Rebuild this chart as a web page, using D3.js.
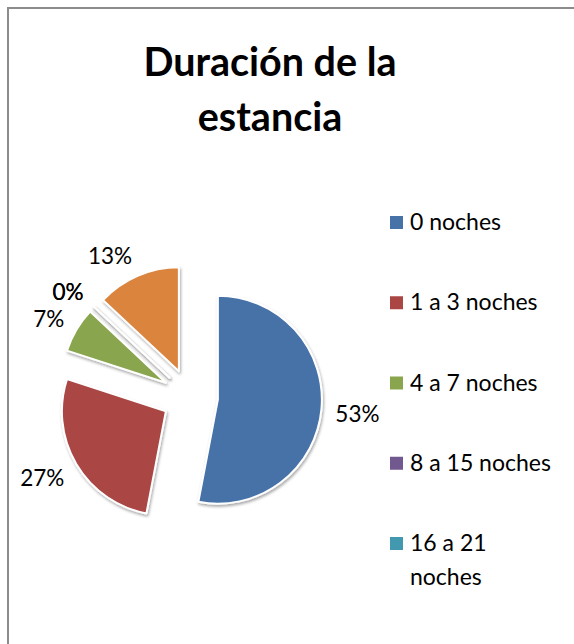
<!DOCTYPE html>
<html>
<head>
<meta charset="utf-8">
<script src="https://cdn.jsdelivr.net/npm/d3@7"></script>
<style>
  html, body { margin: 0; padding: 0; background: #fff; }
  svg { display: block; }
  text { font-family: Lato, "Open Sans", "Liberation Sans", sans-serif; }
</style>
</head>
<body>
<svg id="chart" width="574" height="644"></svg>
<script>
// ---- data ----
const categories = ["0 noches", "1 a 3 noches", "4 a 7 noches", "8 a 15 noches", "16 a 21 noches", ""];
const values = [53, 27, 7, 0, 0, 13];
const legendCount = 5; // only the first five entries are visible in the legend
const colors = ["#4672A8", "#AA4644", "#89A54E", "#71588F", "#4198AF", "#DB843D"];
const title = ["Duración de la", "estancia"];

const svg = d3.select("#chart");
const W = 574, H = 644;

// frame
svg.append("path")
  .attr("d", `M8,${H} L8,8 L${W},8`)
  .attr("fill", "none").attr("stroke", "#8c8c8c").attr("stroke-width", 2);

// title
svg.append("text")
  .attr("x", 270).attr("y", 0)
  .attr("text-anchor", "middle")
  .attr("font-weight", "bold").attr("font-size", 39.5)
  .attr("fill", "#000")
  .selectAll("tspan").data(title).join("tspan")
  .attr("x", 270)
  .attr("y", (d, i) => 76 + i * 55)
  .text(d => d);

// shadow filter
const defs = svg.append("defs");
const f = defs.append("filter").attr("id", "sh").attr("x", "-20%").attr("y", "-20%").attr("width", "140%").attr("height", "140%");
f.append("feGaussianBlur").attr("in", "SourceAlpha").attr("stdDeviation", 1.5).attr("result", "b");
f.append("feOffset").attr("in", "b").attr("dx", 1).attr("dy", 1.5).attr("result", "o");
f.append("feComponentTransfer").attr("in", "o").attr("result", "o2")
  .append("feFuncA").attr("type", "linear").attr("slope", 0.35);
const m = f.append("feMerge");
m.append("feMergeNode").attr("in", "o2");
m.append("feMergeNode").attr("in", "SourceGraphic");

// pie
const cx = 190, cy = 397, r = 104, explode = 28;
const pie = d3.pie().sort(null).value(d => d);
const arcs = pie(values);
const arc = d3.arc().innerRadius(0).outerRadius(r);

const g = svg.append("g").attr("transform", `translate(${cx},${cy})`);
g.selectAll("path.slice").data(arcs).join("path")
  .attr("class", "slice")
  .attr("d", arc)
  .attr("fill", (d, i) => colors[i])
  .attr("stroke", "#fff").attr("stroke-width", 2).attr("stroke-linejoin", "round")
  .attr("filter", "url(#sh)")
  .attr("transform", d => {
    const a = (d.startAngle + d.endAngle) / 2;
    return `translate(${explode * Math.sin(a)},${-explode * Math.cos(a)})`;
  });

// data labels
const labR = r + explode + 14;
g.selectAll("text.lab").data(arcs).join("text")
  .attr("class", "lab")
  .attr("x", d => { const a = (d.startAngle + d.endAngle) / 2; return labR * Math.sin(a); })
  .attr("y", d => { const a = (d.startAngle + d.endAngle) / 2; return -labR * Math.cos(a) - 10 * Math.cos(a) + 2; })
  .attr("dy", "0.35em")
  .attr("text-anchor", d => { const a = (d.startAngle + d.endAngle) / 2; return Math.sin(a) >= 0 ? "start" : "end"; })
  .attr("font-size", 22.5).attr("fill", "#000")
  .text(d => d3.format(".0%")(d.data / d3.sum(values)));

// legend
const ly = d3.scalePoint().domain(d3.range(legendCount)).range([222, 543]);
const leg = svg.append("g");
const items = leg.selectAll("g").data(categories.slice(0, legendCount)).join("g")
  .attr("transform", (d, i) => `translate(390,${ly(i)})`);
items.append("rect").attr("x", 0).attr("y", -6).attr("width", 13).attr("height", 13)
  .attr("fill", (d, i) => colors[i]);
items.append("text").attr("x", 20).attr("y", 0).attr("dy", "0.35em")
  .attr("font-size", 23).attr("fill", "#000")
  .each(function(d) {
    const t = d3.select(this);
    if (d.length > 13) {
      const parts = d.split(" ");
      const first = parts.slice(0, -1).join(" ");
      t.append("tspan").attr("x", 20).text(first);
      t.append("tspan").attr("x", 20).attr("dy", "1.48em").text(parts[parts.length - 1]);
    } else {
      t.text(d);
    }
  });
</script>
</body>
</html>
